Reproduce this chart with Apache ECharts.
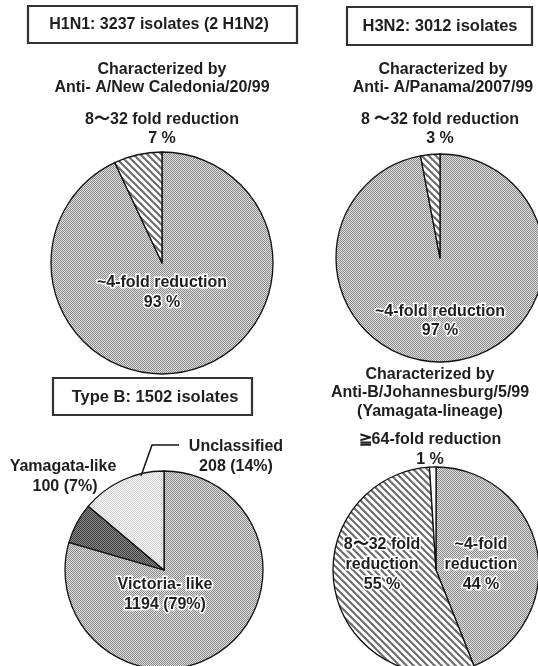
<!DOCTYPE html>
<html>
<head>
<meta charset="utf-8">
<script src="https://cdn.jsdelivr.net/npm/echarts@6/dist/echarts.min.js"></script>
<style>
html,body{margin:0;padding:0;background:#fff;}
#c{width:538px;height:666px;}
</style>
</head>
<body>
<div id="c"></div>
<script>
// ---- Data ----
const h1n1Title = 'H1N1: 3237 isolates (2 H1N2)';
const h1n1Sub = ['Characterized by', 'Anti- A/New Caledonia/20/99'];
const h1n1Names = ['~4-fold reduction', '8〜32 fold reduction'];
const h1n1Values = [93, 7];

const h3n2Title = 'H3N2: 3012 isolates';
const h3n2Sub = ['Characterized by', 'Anti- A/Panama/2007/99'];
const h3n2Names = ['~4-fold reduction', '8 〜32 fold reduction'];
const h3n2Values = [97, 3];

const typeBTitle = 'Type B: 1502 isolates';
const typeBNames = ['Victoria- like', 'Yamagata-like', 'Unclassified'];
const typeBValues = [1194, 100, 208];
const typeBPct = [79, 7, 14];

const bYamSub = ['Characterized by', 'Anti-B/Johannesburg/5/99', '(Yamagata-lineage)'];
const bYamNames = ['~4-fold reduction', '8〜32 fold reduction', '≧64-fold reduction'];
const bYamValues = [44, 55, 1];

// ---- Patterns ----
function checker(a, b) {
  const cv = document.createElement('canvas');
  cv.width = 2; cv.height = 2;
  const g = cv.getContext('2d');
  g.fillStyle = a; g.fillRect(0, 0, 2, 2);
  g.fillStyle = b; g.fillRect(0, 0, 1, 1); g.fillRect(1, 1, 1, 1);
  return { image: cv, repeat: 'repeat' };
}
function hatch() {
  const s = 7;
  const cv = document.createElement('canvas');
  cv.width = s; cv.height = s;
  const g = cv.getContext('2d');
  g.fillStyle = '#ffffff'; g.fillRect(0, 0, s, s);
  g.strokeStyle = '#6e6e6e'; g.lineWidth = 2.2;
  for (let k = -1; k <= 1; k++) {
    g.beginPath(); g.moveTo(-1, k * s - 1); g.lineTo(s + 1, s + k * s + 1); g.stroke();
  }
  return { image: cv, repeat: 'repeat' };
}
const GRAY = checker('#e0e0e0', '#8a8a8a');
const LIGHT = checker('#fbfbfb', '#cfcfcf');
const DARK = checker('#8a8a8a', '#3e3e3e');
const HATCH = hatch();
const WHITE = '#ffffff';

const FONT = '"Liberation Sans", Arial, sans-serif';
const INK = '#1e1e1e';

function pie(center, r, names, values, colors) {
  return {
    type: 'pie', center: center, radius: r, startAngle: 90, clockwise: true,
    silent: true, animation: false, avoidLabelOverlap: false,
    label: { show: false }, labelLine: { show: false },
    emphasis: { disabled: true },
    itemStyle: { borderColor: '#111', borderWidth: 1.3 },
    data: names.map((n, i) => ({ name: n, value: values[i], itemStyle: { color: colors[i] } }))
  };
}

function txt(x, y, text, size, halo, lh) {
  return {
    type: 'text', x: x, y: y, silent: true, z: 100,
    style: {
      text: text, x: 0, y: 0, align: 'center', verticalAlign: 'middle',
      font: 'bold ' + (size || 16) + 'px ' + FONT, fill: INK,
      lineHeight: lh || 20,
      stroke: halo ? '#ffffff' : null, lineWidth: halo ? 3 : 0
    }
  };
}
function box(x, y, w, h) {
  return {
    type: 'rect', silent: true, z: 90,
    shape: { x: x, y: y, width: w, height: h },
    style: { fill: '#fff', stroke: '#333', lineWidth: 2.2 }
  };
}
function split(n) { return n.replace(' reduction', '\nreduction'); }

const chart = echarts.init(document.getElementById('c'), null, { renderer: 'canvas' });
chart.setOption({
  backgroundColor: '#ffffff',
  animation: false,
  series: [
    pie([162, 263], 111, h1n1Names, h1n1Values, [GRAY, HATCH]),
    pie([440, 258], 104, h3n2Names, h3n2Values, [GRAY, HATCH]),
    pie([164, 570], 99, typeBNames, typeBValues, [GRAY, DARK, LIGHT]),
    pie([436, 570], 103, bYamNames, bYamValues, [GRAY, HATCH, WHITE])
  ],
  graphic: [
    box(28, 6, 269, 37), txt(159, 25, h1n1Title, 16),
    txt(162, 70, h1n1Sub[0]), txt(162, 88, h1n1Sub[1]),
    txt(162, 120, h1n1Names[1]), txt(162, 139, h1n1Values[1] + ' %'),
    txt(162, 283, h1n1Names[0], 16, true), txt(162, 303, h1n1Values[0] + ' %', 16, true),

    box(347, 7, 185, 38), txt(440, 26, h3n2Title, 16.5),
    txt(443, 70, h3n2Sub[0]), txt(443, 88, h3n2Sub[1]),
    txt(440, 120, h3n2Names[1]), txt(440, 139, h3n2Values[1] + ' %'),
    txt(440, 312, h3n2Names[0], 16, true), txt(440, 331, h3n2Values[0] + ' %', 16, true),

    box(53, 378, 199, 37), txt(155, 397, typeBTitle, 16.5),
    txt(236, 447, typeBNames[2]), txt(236, 467, typeBValues[2] + ' (' + typeBPct[2] + '%)'),
    txt(63, 467, typeBNames[1]), txt(65, 487, typeBValues[1] + ' (' + typeBPct[1] + '%)'),
    txt(165, 585, typeBNames[0], 16, true), txt(165, 605, typeBValues[0] + ' (' + typeBPct[0] + '%)', 16, true),
    {
      type: 'polyline', silent: true, z: 95,
      shape: { points: [[141, 476], [152, 445], [179, 445]] },
      style: { stroke: '#111', lineWidth: 1.5, fill: null }
    },

    txt(430, 375, bYamSub[0]), txt(430, 393, bYamSub[1]), txt(430, 412, bYamSub[2]),
    txt(430, 440, bYamNames[2]), txt(430, 460, bYamValues[2] + ' %'),
    txt(382, 565, split(bYamNames[1]) + '\n' + bYamValues[1] + ' %', 16, true),
    txt(481, 565, split(bYamNames[0]) + '\n' + bYamValues[0] + ' %', 16, true)
  ]
});
</script>
</body>
</html>
